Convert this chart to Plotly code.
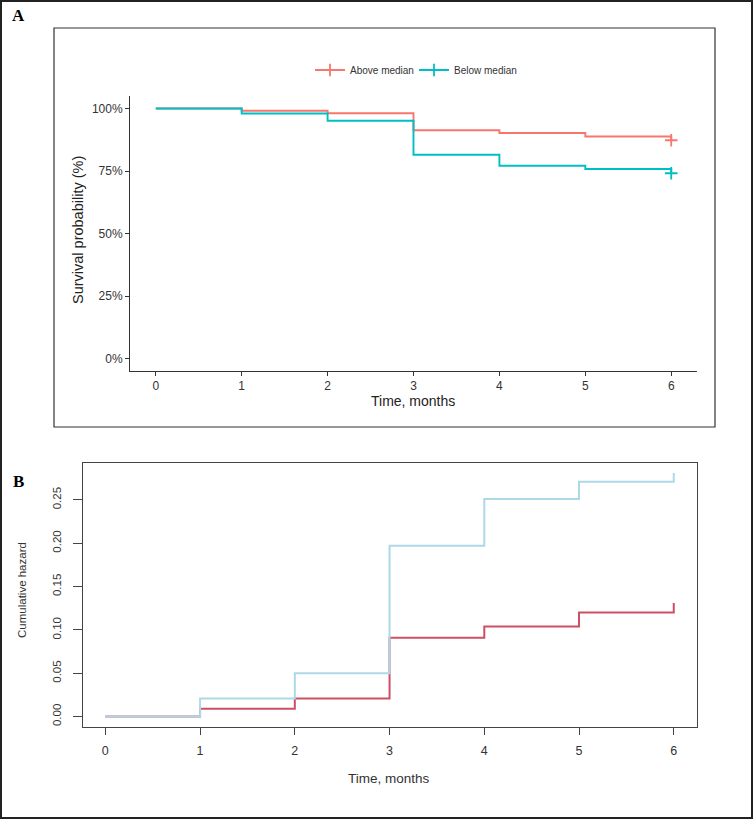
import plotly.graph_objects as go

# ---------------- data ----------------
months = [0, 1, 2, 3, 4, 5, 6]
month_ticks = [0, 1, 2, 3, 4, 5, 6]

# Panel A: Kaplan-Meier survival (%)
surv_above = [100, 99.1, 98.1, 91.3, 90.2, 88.8, 87.3]
surv_below = [100, 98.0, 95.1, 81.5, 77.1, 75.8, 74.1]
surv_ticks = [0, 25, 50, 75, 100]
surv_tick_text = ["0%", "25%", "50%", "75%", "100%"]
group_names = ["Above median", "Below median"]

# Panel B: cumulative hazard
haz_above = [0.0, 0.009, 0.021, 0.091, 0.104, 0.120, 0.131]
haz_below = [0.0, 0.021, 0.050, 0.197, 0.251, 0.271, 0.281]
haz_ticks = [0.00, 0.05, 0.10, 0.15, 0.20, 0.25]

# ---------------- styling ----------------
W, H = 753, 819
FONT = "Arial, Liberation Sans, sans-serif"
SERIF = "Times New Roman, Liberation Serif, serif"
RED_A, TEAL_A = "#F8766D", "#00BFC4"
RED_B, BLUE_B = "#CE4E66", "#ADD8E6"
AXC = "#333333"

def fx(px):
    return px / W

def fy(py):
    return 1 - py / H

fig = go.Figure()

# Panel A survival curves
for y, c, name, lg in [(surv_above, RED_A, group_names[0], "legend"),
                       (surv_below, TEAL_A, group_names[1], "legend2")]:
    fig.add_trace(go.Scatter(x=months, y=y, mode="lines", line=dict(color=c, width=1.9, shape="hv"),
                             showlegend=False, xaxis="x", yaxis="y", hoverinfo="skip"))
    fig.add_trace(go.Scatter(x=[months[-1]], y=[y[-1]], mode="markers",
                             marker=dict(symbol="cross-thin", size=9, line=dict(color=c, width=1.8)),
                             showlegend=False, xaxis="x", yaxis="y", hoverinfo="skip"))
    # legend entry
    fig.add_trace(go.Scatter(x=[None], y=[None], mode="lines+markers", name=name, legend=lg,
                             line=dict(color=c, width=1.8),
                             marker=dict(symbol="cross-thin", size=9, line=dict(color=c, width=1.8)),
                             xaxis="x", yaxis="y"))

# Panel B cumulative hazard (red first, blue on top)
fig.add_trace(go.Scatter(x=months, y=haz_above, mode="lines", line=dict(color=RED_B, width=2, shape="hv"),
                         showlegend=False, xaxis="x2", yaxis="y2", hoverinfo="skip"))
fig.add_trace(go.Scatter(x=months, y=haz_below, mode="lines", line=dict(color=BLUE_B, width=2, shape="hv"),
                         showlegend=False, xaxis="x2", yaxis="y2", hoverinfo="skip"))

leg_common = dict(orientation="h", y=fy(70), xanchor="left", yanchor="middle",
                  font=dict(size=10, color="#333"), itemwidth=30,
                  bgcolor="rgba(0,0,0,0)", borderwidth=0)

fig.update_layout(
    template="none",
    width=W, height=H,
    margin=dict(l=0, r=0, t=0, b=0),
    paper_bgcolor="white", plot_bgcolor="white",
    font=dict(family=FONT, color=AXC),
    showlegend=True,
    legend=dict(x=fx(310), **leg_common),
    legend2=dict(x=fx(414), **leg_common),
    xaxis=dict(domain=[fx(130), fx(697)], range=[-0.3, 6.3], tickvals=month_ticks,
               showline=True, linecolor=AXC, linewidth=1, ticks="outside", ticklen=4, tickcolor=AXC,
               showgrid=False, zeroline=False, tickfont=dict(size=12, color="#333"), anchor="y"),
    yaxis=dict(domain=[fy(371), fy(96)], range=[-5, 105], tickvals=surv_ticks, ticktext=surv_tick_text,
               showline=True, linecolor=AXC, linewidth=1, ticks="outside", ticklen=4, tickcolor=AXC,
               showgrid=False, zeroline=False, tickfont=dict(size=12, color="#333"), anchor="x"),
    xaxis2=dict(domain=[fx(82.6), fx(696.5)], range=[-0.24, 6.24], tickvals=month_ticks,
                showline=True, mirror=True, linecolor="#444", linewidth=1, ticks="outside", ticklen=7,
                tickcolor="#444", showgrid=False, zeroline=False, ticklabelstandoff=5,
                tickfont=dict(size=12.5, color="#333"), anchor="y2"),
    yaxis2=dict(domain=[fy(727), fy(463)], range=[-0.012, 0.2925], tickvals=haz_ticks, tickformat=".2f",
                tickangle=-90, showline=True, mirror=True, linecolor="#444", linewidth=1, ticks="outside",
                ticklen=9, tickcolor="#444", showgrid=False, zeroline=False, ticklabelstandoff=7,
                tickfont=dict(size=11.5, color="#333"), anchor="x2"),
)

annotations = [
    dict(text="<b>A</b>", x=fx(18), y=fy(15), font=dict(family=SERIF, size=17, color="black")),
    dict(text="<b>B</b>", x=fx(18), y=fy(481), font=dict(family=SERIF, size=17, color="black")),
    dict(text="Time, months", x=fx(413.5), y=fy(401), font=dict(size=14, color="#222")),
    dict(text="Survival probability (%)", x=fx(78), y=fy(230), textangle=-90, font=dict(size=14.5, color="#222")),
    dict(text="Time, months", x=fx(389), y=fy(778), font=dict(size=13.5, color="#333")),
    dict(text="Cumulative hazard", x=fx(22), y=fy(590), textangle=-90, font=dict(size=11.5, color="#333")),
]
for a in annotations:
    a.update(xref="paper", yref="paper", showarrow=False, xanchor="center", yanchor="middle")
    fig.add_annotation(**a)

# outer border and panel A frame
fig.add_shape(type="rect", xref="paper", yref="paper", x0=fx(1), x1=fx(752), y0=fy(818), y1=fy(1),
              line=dict(color="#222", width=2))
fig.add_shape(type="rect", xref="paper", yref="paper", x0=fx(54), x1=fx(715), y0=fy(427), y1=fy(28),
              line=dict(color="#333", width=1.2))

fig.write_html("out.html", config={"displayModeBar": False},
               post_script="document.body.style.margin='0';document.body.style.overflow='hidden';")
